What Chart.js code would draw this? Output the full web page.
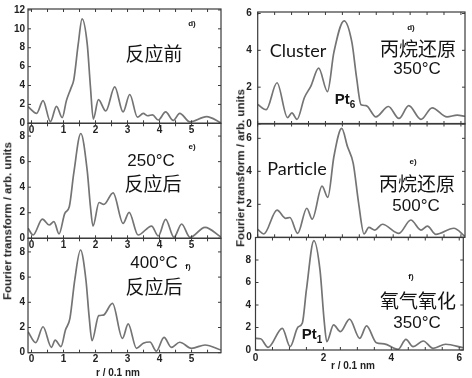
<!DOCTYPE html>
<html><head><meta charset="utf-8">
<script src="https://cdn.jsdelivr.net/npm/chart.js@4.4.1/dist/chart.umd.min.js"></script>
<style>
html,body{margin:0;padding:0;background:#fff;}
#wrap{position:relative;width:472px;height:378px;overflow:hidden;background:#fff;}
canvas{position:absolute;left:0;top:0;}
.t{position:absolute;transform:translate(-50%,-50%);white-space:nowrap;color:#141414;line-height:1;}
.cn{font-family:"Noto Sans CJK SC";font-size:19px;}
.deg{font-family:"Liberation Sans";font-size:17px;}
.lab{font-family:"Liberation Sans";font-weight:bold;font-size:8px;}
.en{font-family:"Lato";font-size:18px;}
.pt{font-family:"Liberation Sans";font-weight:bold;font-size:15px;}
.pt sub{font-size:10px;vertical-align:-4px;}
.yt{position:absolute;transform:translate(-50%,-50%) rotate(-90deg);font-family:"Liberation Sans";font-weight:bold;font-size:11.5px;white-space:nowrap;color:#222;line-height:1;}
.xt{position:absolute;transform:translate(-50%,-50%);font-family:"Liberation Sans";font-weight:bold;font-size:10px;white-space:nowrap;color:#222;line-height:1;}
</style></head>
<body>
<div id="wrap">
<canvas id="c1" width="472" height="378"></canvas>
<canvas id="c2" width="472" height="378"></canvas>
<canvas id="c3" width="472" height="378"></canvas>
<canvas id="c4" width="472" height="378"></canvas>
<canvas id="c5" width="472" height="378"></canvas>
<canvas id="c6" width="472" height="378"></canvas>

<div class="yt" style="left:8px;top:221px;">Fourier transform / arb. units</div>
<div class="yt" style="left:241px;top:168px;">Fourier transform / arb. units</div>
<div class="xt" style="left:118px;top:373px;">r / 0.1 nm</div>
<div class="xt" style="left:353px;top:366px;">r / 0.1 nm</div>

<div class="t lab" style="left:192px;top:24px;">d)</div>
<div class="t cn" style="left:154px;top:52px;">反应前</div>

<div class="t lab" style="left:192px;top:147px;">e)</div>
<div class="t deg" style="left:151px;top:160px;">250°C</div>
<div class="t cn" style="left:153px;top:182px;">反应后</div>

<div class="t lab" style="left:188px;top:267px;">f)</div>
<div class="t deg" style="left:154px;top:262px;">400°C</div>
<div class="t cn" style="left:154px;top:285px;">反应后</div>

<div class="t lab" style="left:411px;top:28px;">d)</div>
<div class="t en" style="left:298px;top:50px;">Cluster</div>
<div class="t cn" style="left:418px;top:47px;">丙烷还原</div>
<div class="t deg" style="left:417px;top:68px;">350°C</div>
<div class="t pt" style="left:345px;top:100px;">Pt<sub>6</sub></div>

<div class="t lab" style="left:413px;top:162px;">e)</div>
<div class="t en" style="left:297px;top:168px;">Particle</div>
<div class="t cn" style="left:417px;top:182px;">丙烷还原</div>
<div class="t deg" style="left:416px;top:205px;">500°C</div>

<div class="t lab" style="left:411px;top:277px;">f)</div>
<div class="t cn" style="left:418px;top:299px;">氧气氧化</div>
<div class="t deg" style="left:417px;top:322px;">350°C</div>
<div class="t pt" style="left:312px;top:335px;">Pt<sub>1</sub></div>
</div>
<script>
// ---- data ----
const leftXTicks = [0, 1, 2, 3, 4, 5];
const rightXTicks = [0, 2, 4, 6];
const y1Ticks = [0, 2, 4, 6, 8, 10, 12];
const y2Ticks = [0, 2, 4, 6, 8];
const y3Ticks = [0, 2, 4, 6, 8];
const y4Ticks = [0, 2, 4, 6];
const y5Ticks = [0, 2, 4, 6];
const y6Ticks = [0, 2, 4, 6, 8];

const r1 = [-0.11,0.16,0.36,0.59,0.78,0.96,1.09,1.23,1.32,1.46,1.58,1.74,1.84,1.93,2.09,2.32,2.6,2.86,3.07,3.31,3.49,3.63,3.78,3.96,4.19,4.43,4.63,4.95,5.47,5.92];
const v1 = [1.75,1.05,2.4,0.17,1.8,0.6,2.4,3.7,4.6,8.4,11.05,8.4,3.9,0.45,2.5,1.3,3.85,1.2,3.05,0.65,1.05,0.8,0.9,0.35,1.2,0.3,1.05,0.15,0.7,0.05];

const r2 = [-0.11,0.05,0.34,0.55,0.7,0.86,1.04,1.18,1.32,1.54,1.74,1.84,1.92,2.11,2.26,2.55,2.86,3.05,3.33,3.75,3.96,4.19,4.45,4.69,4.95,5.42,5.92];
const v2 = [0.78,0.26,1.5,1.04,1.3,0.34,1.95,2.47,5.1,8.2,5.3,2.5,0.96,2.8,2.65,3.56,1.17,2.03,0.26,0.96,0.18,1.48,0.08,1.12,0.08,0.86,0.1];

const r3 = [-0.11,0.13,0.36,0.62,0.74,0.92,1.06,1.2,1.35,1.53,1.7,1.8,1.89,2.1,2.24,2.53,2.84,3.02,3.28,3.49,3.7,3.9,4.14,4.37,4.63,5.0,5.42,5.92];
const v3 = [1.67,0.8,2.06,0.43,1.0,0.48,1.8,2.73,5.77,8.15,5.77,2.86,0.95,2.94,2.98,3.92,1.14,2.28,0.35,0.75,0.85,0.13,1.22,0.43,0.83,0.35,0.61,0.21];

const r4 = [0,0.25,0.57,0.88,1.01,1.16,1.38,1.57,1.8,2.06,2.25,2.55,2.78,2.92,3.05,3.2,3.49,3.86,4.17,4.46,4.82,5.15,5.59,5.89,6.12];
const v4 = [1.06,0.78,2.24,0.35,0.6,0.25,1.44,2.06,3.03,1.76,3.9,5.6,4.44,2.5,1.05,1.0,0.39,0.95,0.3,1.0,0.25,0.88,0.39,0.48,0.42];

const r5 = [0,0.18,0.57,0.83,0.95,1.18,1.45,1.61,1.9,2.07,2.25,2.48,2.65,2.82,2.98,3.14,3.28,3.46,3.68,4.17,4.52,4.82,5.01,5.26,5.79,6.12];
const v5 = [0.48,0.2,1.65,1.15,1.2,0.24,1.76,1.1,3.1,2.42,4.9,6.6,5.5,4.48,2.06,0.2,0.6,0.44,0.79,0.24,1.05,0.44,0.68,0.18,0.55,0.06];

const r6 = [0,0.15,0.37,0.79,1.02,1.25,1.38,1.5,1.72,1.9,2.02,2.1,2.3,2.5,2.77,3.07,3.27,3.56,3.79,4.2,4.43,4.64,4.94,5.23,5.6,6.12];
const v6 = [1.04,1.0,0.24,1.93,0.3,2.03,2.4,5.36,9.73,7.1,2.68,0.74,2.23,1.63,2.74,1.04,2.14,0.65,0.55,0.05,0.95,0.3,0.8,0.15,0.51,0.2];

// ---- rendering ----
Chart.defaults.font.family = '"Liberation Sans", Arial, sans-serif';
Chart.defaults.font.size = 10;
Chart.defaults.font.weight = 'bold';
Chart.defaults.color = '#222';

const frame = {
  id: 'frame',
  afterDatasetsDraw(chart, args, o) {
    const {ctx, chartArea: a, scales: {x, y}} = chart;
    ctx.save();
    ctx.strokeStyle = '#3a3a3a';
    ctx.lineWidth = 1.2;
    ctx.strokeRect(a.left, a.top, a.right - a.left, a.bottom - a.top);
    ctx.lineWidth = 1;
    ctx.beginPath();
    const L = 3;
    for (let t = Math.ceil(x.min / o.xStep) * o.xStep; t <= x.max + 1e-9; t += o.xStep) {
      const px = x.getPixelForValue(t);
      ctx.moveTo(px, a.bottom); ctx.lineTo(px, a.bottom - L);
      ctx.moveTo(px, a.top); ctx.lineTo(px, a.top + L);
    }
    for (let t = 0; t <= y.max + 1e-9; t += o.yStep) {
      const py = y.getPixelForValue(t);
      ctx.moveTo(a.left, py); ctx.lineTo(a.left + L, py);
      ctx.moveTo(a.right, py); ctx.lineTo(a.right - L, py);
    }
    ctx.stroke();
    ctx.restore();
  }
};

function panel(id, r, v, xTicks, yTicks, g) {
  const W = 472, H = 378, yw = 20, xh = 14;
  new Chart(document.getElementById(id), {
    type: 'line',
    data: { datasets: [{
      data: r.map((x, i) => ({x: x, y: v[i]})),
      borderColor: '#747474', borderWidth: 1.7, pointRadius: 0,
      cubicInterpolationMode: 'monotone', fill: false
    }]},
    options: {
      responsive: false, animation: false, events: [],
      layout: { padding: { left: g.left - yw, right: W - g.right, top: g.top, bottom: H - g.bottom - xh } },
      plugins: { legend: {display: false}, tooltip: {enabled: false}, frame: {xStep: g.xStep, yStep: g.yStep} },
      scales: {
        x: {
          type: 'linear', min: g.xmin, max: g.xmax,
          afterBuildTicks: s => { s.ticks = xTicks.map(t => ({value: t})); },
          afterFit: s => { s.height = xh; },
          grid: {display: false, drawTicks: false}, border: {display: false},
          ticks: {display: g.showX, padding: g.xPad, maxRotation: 0, autoSkip: false, color: '#222'}
        },
        y: {
          type: 'linear', min: 0, max: g.ymax,
          afterBuildTicks: s => { s.ticks = yTicks.map(t => ({value: t})); },
          afterFit: s => { s.width = yw; },
          grid: {display: false, drawTicks: false}, border: {display: false},
          ticks: {padding: g.yPad, autoSkip: false, color: '#222'}
        }
      }
    },
    plugins: [frame]
  });
}

panel('c1', r1, v1, leftXTicks, y1Ticks, {left: 28, right: 221, top: 8.5, bottom: 123.3, xmin: -0.11, xmax: 5.92, ymax: 12.1, showX: true, xPad: 1, yPad: 3, xStep: 0.5, yStep: 2});
panel('c2', r2, v2, leftXTicks, y2Ticks, {left: 28, right: 221, top: 123.3, bottom: 238.3, xmin: -0.11, xmax: 5.92, ymax: 9.0, showX: true, xPad: 1, yPad: 3, xStep: 0.5, yStep: 2});
panel('c3', r3, v3, leftXTicks, y3Ticks, {left: 28, right: 221, top: 238.3, bottom: 352.7, xmin: -0.11, xmax: 5.92, ymax: 9.08, showX: true, xPad: 1, yPad: 3, xStep: 0.5, yStep: 2});
panel('c4', r4, v4, rightXTicks, y4Ticks, {left: 257.7, right: 465, top: 9, bottom: 124, xmin: 0, xmax: 6.12, ymax: 6.08, showX: false, xPad: 1, yPad: 6, xStep: 0.5, yStep: 2});
panel('c5', r5, v5, rightXTicks, y5Ticks, {left: 257.7, right: 465, top: 123.5, bottom: 237.3, xmin: 0, xmax: 6.12, ymax: 6.9, showX: false, xPad: 1, yPad: 6, xStep: 0.5, yStep: 2});
panel('c6', r6, v6, rightXTicks, y6Ticks, {left: 255.5, right: 463.3, top: 237.5, bottom: 350, xmin: 0, xmax: 6.12, ymax: 10.0, showX: true, xPad: 2, yPad: 4.5, xStep: 0.5, yStep: 2});
</script>
</body></html>
